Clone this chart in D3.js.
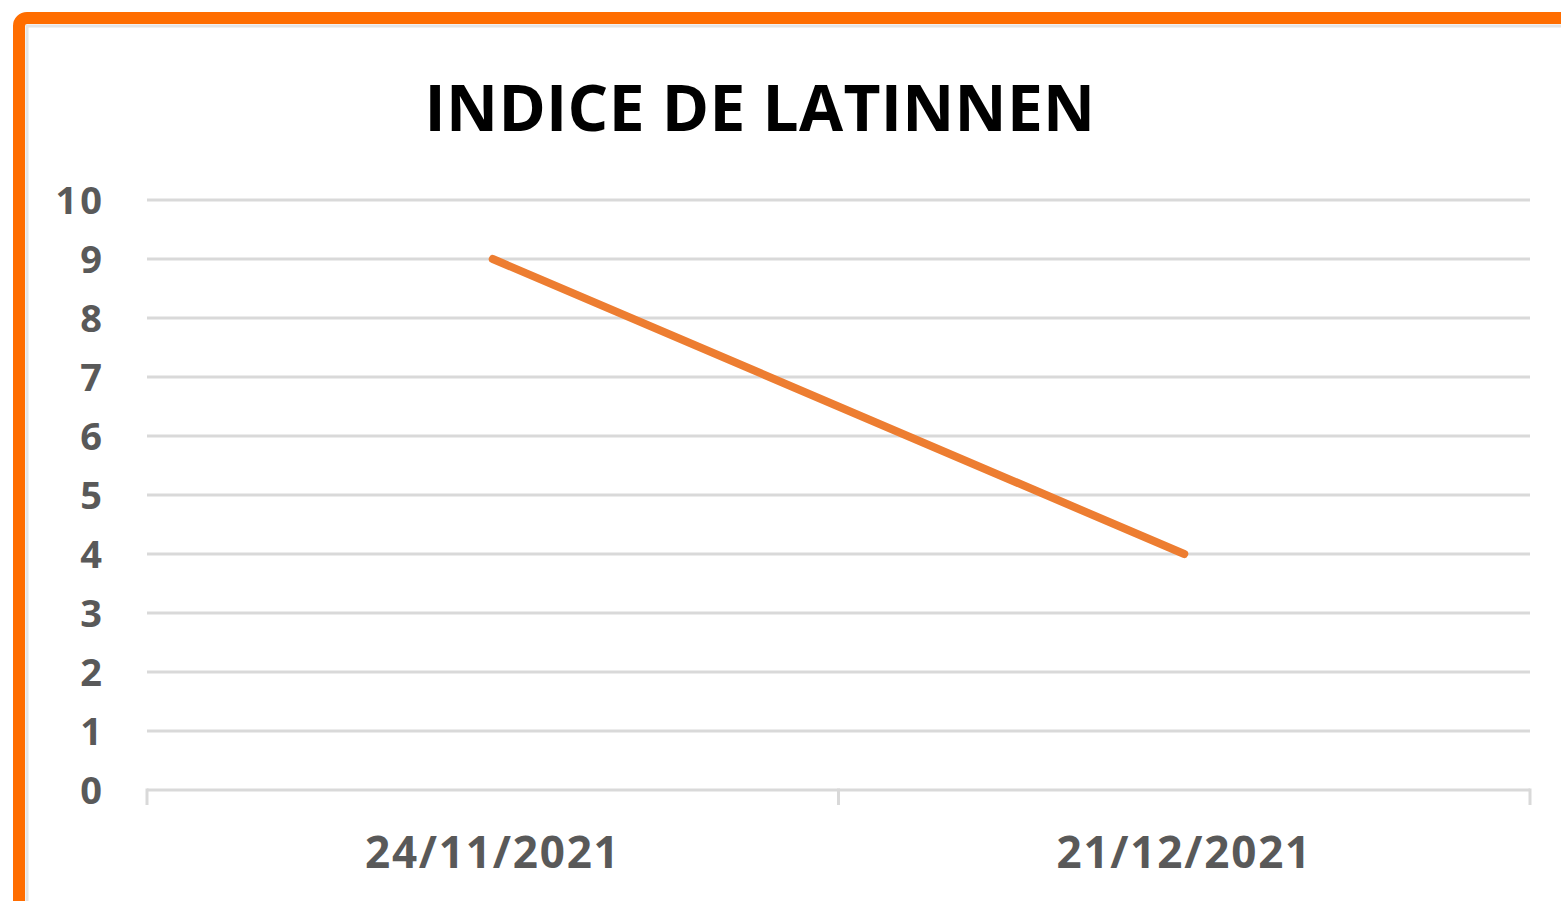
<!DOCTYPE html>
<html lang="fr">
<head>
  <meta charset="UTF-8" />
  <title>Indice de Latinnen</title>
  <script src="https://d3js.org/d3.v7.min.js"></script>
  <style>
    body { margin: 0; background: #ffffff; overflow: hidden; }
    svg { display: block; }
    .tick-label { font-family: "Open Sans", sans-serif; font-weight: 700; fill: #595959; }
    .title { font-family: "Open Sans", sans-serif; font-weight: 700; fill: #000; }
  </style>
</head>
<body>
<svg id="chart"></svg>
<script>
const W = 1561, H = 901;

// data
const dates = ["24/11/2021", "21/12/2021"];
const values = [9, 4];
const yTicks = [0, 1, 2, 3, 4, 5, 6, 7, 8, 9, 10];
const title = "INDICE DE LATINNEN";

const svg = d3.select("#chart").attr("width", W).attr("height", H);

// frame
svg.append("rect")
  .attr("x", 27).attr("y", 26).attr("width", W).attr("height", H)
  .attr("fill", "none").attr("stroke", "#e4e4e4").attr("stroke-width", 3);
svg.append("rect")
  .attr("x", 19).attr("y", 18).attr("width", W + 40).attr("height", H + 40)
  .attr("rx", 8)
  .attr("fill", "none").attr("stroke", "#ff6d00").attr("stroke-width", 12);

const x = d3.scaleBand().domain(dates).range([147, 1530]);
const y = d3.scaleLinear().domain([0, 10]).range([790, 200]);

// gridlines
svg.append("g")
  .selectAll("line")
  .data(yTicks.filter(d => d > 0))
  .join("line")
  .attr("x1", 147).attr("x2", 1530)
  .attr("y1", d => y(d)).attr("y2", d => y(d))
  .attr("stroke", "#d9d9d9").attr("stroke-width", 3);

// x axis
const xAxis = svg.append("g");
xAxis.append("line")
  .attr("x1", 147).attr("x2", 1530)
  .attr("y1", y(0)).attr("y2", y(0))
  .attr("stroke", "#d9d9d9").attr("stroke-width", 3);
xAxis.selectAll("line.tk")
  .data([147, ...dates.slice(1).map(d => x(d)), 1530])
  .join("line")
  .attr("class", "tk")
  .attr("x1", d => d).attr("x2", d => d)
  .attr("y1", y(0) - 1.5).attr("y2", y(0) + 15)
  .attr("stroke", "#d9d9d9").attr("stroke-width", 3);

xAxis.selectAll("text")
  .data(dates)
  .join("text")
  .attr("class", "tick-label")
  .attr("x", d => x(d) + x.bandwidth() / 2)
  .attr("y", 868)
  .attr("text-anchor", "middle")
  .attr("font-size", 44)
  .attr("letter-spacing", 1.8)
  .text(d => d);

// y labels
svg.append("g")
  .selectAll("text")
  .data(yTicks)
  .join("text")
  .attr("class", "tick-label")
  .attr("x", 105)
  .attr("y", d => y(d))
  .attr("dy", "0.36em")
  .attr("text-anchor", "end")
  .attr("font-size", 38)
  .attr("letter-spacing", 3)
  .text(d => d);

// line
const line = d3.line()
  .x((d, i) => x(dates[i]) + x.bandwidth() / 2)
  .y(d => y(d));

svg.append("path")
  .datum(values)
  .attr("d", line)
  .attr("fill", "none")
  .attr("stroke", "#ed7d31")
  .attr("stroke-width", 8)
  .attr("stroke-linecap", "round");

// title
svg.append("text")
  .attr("class", "title")
  .attr("x", 760)
  .attr("y", 131)
  .attr("text-anchor", "middle")
  .attr("font-size", 64)
  .attr("letter-spacing", 0.3)
  .text(title);
</script>
</body>
</html>
